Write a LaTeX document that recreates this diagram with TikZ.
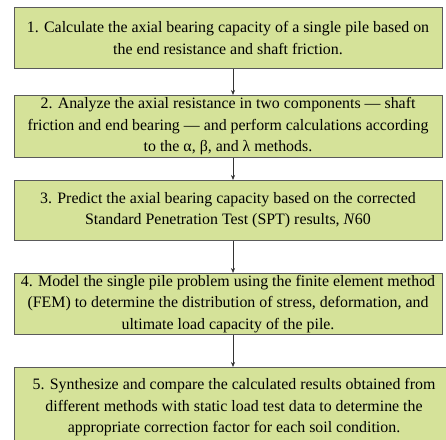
\documentclass[tikz,border=0pt]{standalone}
\usepackage{fontspec}
\setmainfont{Liberation Serif}
\usetikzlibrary{arrows.meta}

\definecolor{boxfill}{RGB}{213,226,153}
\definecolor{boxline}{RGB}{90,90,90}

\begin{document}
\begin{tikzpicture}[x=1pt,y=1pt,
    stepbox/.style={draw=boxline, fill=boxfill, line width=0.8pt, anchor=north,
      minimum width=428pt, align=center, inner sep=0pt,
      font=\fontsize{15.9}{21.5}\selectfont},
    flow/.style={draw=black!80, line width=0.6pt, -{Stealth[length=5pt,width=4pt]}}]
            \useasboundingbox (0,0) rectangle (446,-439);
            \node[stepbox, minimum height=61pt] (s1) at (228,-7)
              {1. Calculate the axial bearing capacity of a single pile based on\\
               the end resistance and shaft friction.};
            \node[stepbox, minimum height=62pt] (s2) at (228,-95)
              {2. Analyze the axial resistance in two components — shaft\\
               friction and end bearing — and perform calculations according\\
               to the α, β, and λ methods.};
            \node[stepbox, minimum height=60pt] (s3) at (228,-180)
              {3. Predict the axial bearing capacity based on the corrected\\
               Standard Penetration Test (SPT) results, \textit{N}60};
            \node[stepbox, minimum height=61pt] (s4) at (228,-273)
              {4. Model the single pile problem using the finite element method\\
               (FEM) to determine the distribution of stress, deformation, and\\
               ultimate load capacity of the pile.};
            \node[stepbox, minimum height=80pt, minimum width=440pt] (s5) at (234,-367)
              {5. Synthesize and compare the calculated results obtained from\\
               different methods with static load test data to determine the\\
               appropriate correction factor for each soil condition.};
            \foreach \a/\b in {s1/s2,s2/s3,s3/s4,s4/s5}
              \draw[flow] ([xshift=5pt]\a.south) -- ([xshift=5pt]\a.south |- \b.north);
        \end{tikzpicture}
\end{document}
